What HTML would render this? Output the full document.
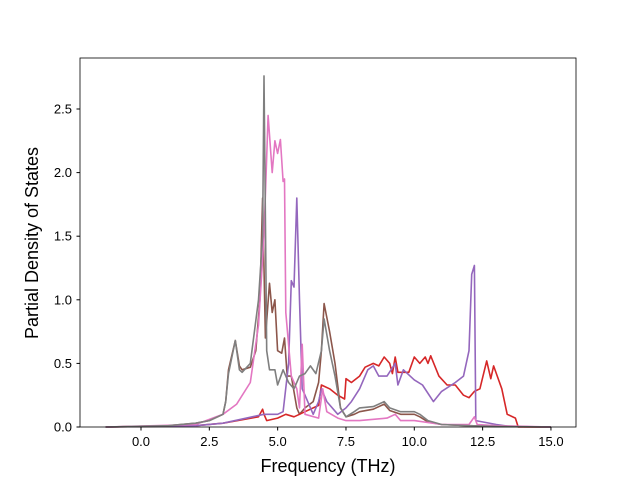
<!DOCTYPE html>
<html><head><meta charset="utf-8"><style>body{margin:0;background:#fff}svg{font-family:"Liberation Sans","DejaVu Sans",sans-serif}</style></head>
<body>
<svg id="chart" width="640" height="480" viewBox="0 0 640 480" xmlns="http://www.w3.org/2000/svg">
<rect x="80" y="58" width="496" height="369" fill="#fff"/>
<g id="lines"></g>
<rect x="80" y="58" width="496" height="369" fill="none" stroke="#000" stroke-width="0.8"/>
<g id="ticks" font-size="13" fill="#000"></g>
<text x="328" y="472" font-size="18" text-anchor="middle">Frequency (THz)</text>
<text transform="translate(38,243) rotate(-90)" font-size="18" text-anchor="middle">Partial Density of States</text>
</svg>
<script>
const xTicks=[0,2.5,5,7.5,10,12.5,15];
const xTickLabels=["0.0","2.5","5.0","7.5","10.0","12.5","15.0"];
const yTicks=[0,0.5,1,1.5,2,2.5];
const yTickLabels=["0.0","0.5","1.0","1.5","2.0","2.5"];
const brownX=[-1.3,1,2,2.5,3,3.1,3.2,3.45,3.6,3.7,4.0,4.2,4.35,4.45,4.55,4.7,4.8,4.9,5.0,5.15,5.25,5.35,5.5,5.7,5.8,6.0,6.3,6.5,6.6,6.7,6.9,7.1,7.3,7.5,7.8,8.0,8.5,8.9,9.1,9.5,10,10.2,10.5,11,12,13,15];
const brownY=[0,0.01,0.03,0.05,0.1,0.2,0.45,0.68,0.48,0.45,0.47,0.6,1.0,1.8,0.7,1.13,0.9,1.0,0.6,0.58,0.7,0.4,0.4,0.15,0.1,0.15,0.2,0.35,0.6,0.97,0.75,0.5,0.15,0.08,0.1,0.12,0.14,0.18,0.13,0.1,0.1,0.08,0.04,0.02,0.01,0.005,0];
const redX=[-1.3,2,3,4.3,4.45,4.5,4.6,5.0,5.3,5.6,5.8,6.0,6.5,6.6,6.9,7.2,7.45,7.5,7.7,8.0,8.2,8.5,8.7,8.9,9.1,9.2,9.3,9.4,9.8,10.0,10.2,10.4,10.5,10.6,10.9,11.2,11.5,11.8,12.0,12.2,12.4,12.65,12.8,12.9,13.2,13.4,13.7,13.8,15];
const redY=[0,0.01,0.03,0.08,0.14,0.1,0.05,0.07,0.1,0.08,0.1,0.12,0.17,0.33,0.3,0.25,0.22,0.38,0.35,0.4,0.47,0.5,0.48,0.55,0.5,0.42,0.55,0.43,0.43,0.55,0.5,0.55,0.5,0.56,0.4,0.33,0.33,0.25,0.23,0.28,0.3,0.52,0.38,0.48,0.3,0.1,0.07,0,0];
const purpleX=[-1.3,2,3,4.5,5.0,5.2,5.4,5.5,5.6,5.7,5.8,5.9,6.0,6.3,6.5,6.6,6.8,7.2,7.5,7.7,8.0,8.3,8.5,8.7,9.0,9.3,9.4,9.6,10.0,10.3,10.7,11.0,11.5,11.8,12.0,12.1,12.2,12.25,13,13.5,15];
const purpleY=[0,0.01,0.03,0.1,0.1,0.12,0.5,1.15,1.1,1.8,1.0,0.3,0.25,0.1,0.2,0.3,0.2,0.1,0.15,0.2,0.3,0.45,0.48,0.4,0.4,0.5,0.33,0.45,0.37,0.33,0.2,0.28,0.35,0.4,0.6,1.2,1.27,0.05,0.02,0.005,0];
const pinkX=[-1.3,2,3,3.5,4.0,4.3,4.5,4.65,4.8,4.9,5.0,5.1,5.2,5.25,5.3,5.5,5.7,5.8,5.9,6.0,6.5,6.65,6.8,7.2,7.5,8,9,9.3,9.5,10,11,12,12.2,12.3,13,15];
const pinkY=[0,0.02,0.1,0.18,0.35,0.8,1.5,2.45,2.0,2.25,2.15,2.26,1.93,1.95,0.9,0.4,0.3,0.15,0.65,0.1,0.07,0.3,0.12,0.07,0.05,0.05,0.07,0.1,0.05,0.05,0.02,0.02,0.08,0.02,0.01,0];
const greyX=[-1.3,1,2,2.5,3,3.1,3.2,3.45,3.6,3.7,4.0,4.3,4.45,4.5,4.6,4.7,4.9,5.0,5.2,5.4,5.6,5.8,6.0,6.2,6.4,6.6,6.7,6.9,7.1,7.3,7.5,7.8,8.0,8.5,8.9,9.1,9.5,10,10.2,10.5,11,12,13,15];
const greyY=[0,0.01,0.03,0.05,0.1,0.2,0.42,0.68,0.45,0.43,0.5,1.0,1.5,2.76,0.6,0.45,0.45,0.33,0.45,0.35,0.3,0.4,0.42,0.48,0.42,0.6,0.85,0.6,0.4,0.15,0.08,0.12,0.15,0.16,0.2,0.15,0.12,0.12,0.1,0.05,0.02,0.01,0.005,0];
const sx=v=>141+v*27.33, sy=v=>427-v*127.2;
const NS="http://www.w3.org/2000/svg";
const lines=document.getElementById('lines');
function draw(xs,ys,color,name){
  const p=document.createElementNS(NS,'polyline');
  p.setAttribute('points',xs.map((x,i)=>sx(x).toFixed(1)+','+sy(ys[i]).toFixed(1)).join(' '));
  p.setAttribute('fill','none');p.setAttribute('stroke',color);p.setAttribute('stroke-width','1.6');p.setAttribute('stroke-linejoin','round');
  
  
  lines.appendChild(p);
}
draw(brownX,brownY,'#8c564b','series-brown');
draw(redX,redY,'#d62728','series-red');
draw(purpleX,purpleY,'#9467bd','series-purple');
draw(pinkX,pinkY,'#e377c2','series-pink');
draw(greyX,greyY,'#7f7f7f','series-grey');
const tg=document.getElementById('ticks');
xTicks.forEach((v,i)=>{
  const l=document.createElementNS(NS,'line');
  l.setAttribute('x1',sx(v));l.setAttribute('x2',sx(v));l.setAttribute('y1',427);l.setAttribute('y2',430.5);l.setAttribute('stroke','#000');
  
  
  tg.appendChild(l);
  const t=document.createElementNS(NS,'text');
  t.setAttribute('x',sx(v));t.setAttribute('y',446);t.setAttribute('text-anchor','middle');t.textContent=xTickLabels[i];
  
  
  tg.appendChild(t);
});
yTicks.forEach((v,i)=>{
  const l=document.createElementNS(NS,'line');
  l.setAttribute('x1',76.5);l.setAttribute('x2',80);l.setAttribute('y1',sy(v));l.setAttribute('y2',sy(v));l.setAttribute('stroke','#000');
  
  
  tg.appendChild(l);
  const t=document.createElementNS(NS,'text');
  t.setAttribute('x',72);t.setAttribute('y',sy(v)+4.5);t.setAttribute('text-anchor','end');t.textContent=yTickLabels[i];
  
  
  tg.appendChild(t);
});
</script>
</body></html>
